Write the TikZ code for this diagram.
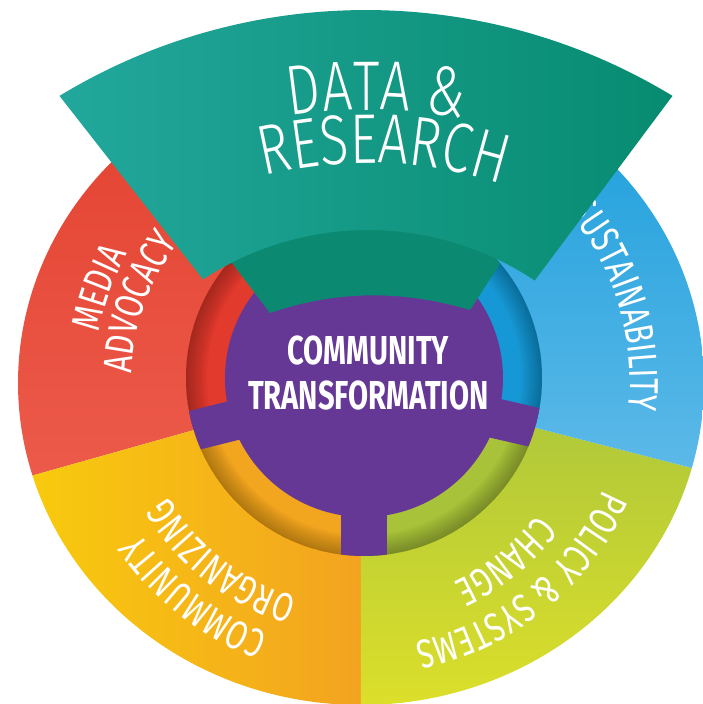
\documentclass[tikz,border=0pt]{standalone}
\usepackage{fontspec}
\setmainfont{Fira Sans}
\newfontfamily\thinfont{Fira Sans Light}[FakeStretch=0.76]
\newfontfamily\ringfamily{Fira Sans}[FakeStretch=0.74]
\newfontfamily\heavyfont{Fira Sans}[FakeStretch=0.72]
\usetikzlibrary{calc,decorations.text}

\definecolor{redtop}{HTML}{E3402E}
\definecolor{redlow}{HTML}{EC5A4A}
\definecolor{redmid}{HTML}{E23A2C}
\definecolor{orgleft}{HTML}{F8CA0E}
\definecolor{orgright}{HTML}{F3A320}
\definecolor{orgmid}{HTML}{F2A51E}
\definecolor{grntop}{HTML}{AAC53C}
\definecolor{grnlow}{HTML}{DCDF2A}
\definecolor{grnmid}{HTML}{A8C23A}
\definecolor{blutop}{HTML}{169CDA}
\definecolor{blulow}{HTML}{5CB9E8}
\definecolor{blumid}{HTML}{1798D6}
\definecolor{tealleft}{HTML}{22A79C}
\definecolor{tealright}{HTML}{078B70}
\definecolor{tealmid}{HTML}{0C8A71}
\definecolor{corepurple}{HTML}{653896}

\newcommand\ringfont{\ringfamily\fontsize{23}{23}\selectfont}
\newcommand\capfont{\thinfont\fontsize{40}{40}\selectfont}

\tikzset{
  ringlabel/.style={
    decorate,
    decoration={text along path, text align=center, text color=white, text={|\ringfont|#1}}
  },
  caplabel/.style={
    decorate,
    decoration={text along path, text align=center, text color=white, text={|\capfont|#1}}
  },
  coretext/.style={
    text=white,
    align=center,
    font=\heavyfont\bfseries\fontsize{23}{26}\selectfont
  },
  spoke/.style={fill=corepurple}
}

\begin{document}
\begin{tikzpicture}
\useasboundingbox (-7.28,-6.52) rectangle (6.78,7.56);

\coordinate (rc) at (-0.06,-0.1);
\coordinate (wedgeout) at (0.04,-4.44);
\coordinate (wedgein) at (0.08,-3.05);
\coordinate (tc) at (0.08,-4.44);

% outer ring
\shade[top color=redtop, bottom color=redlow]
  (rc) -- ++(196.7:6.86 and 6.44) arc[start angle=196.7, end angle=90, x radius=6.86, y radius=6.44] -- cycle;
\shade[left color=orgleft, right color=orgright]
  (rc) -- ++(270:6.86 and 6.44) arc[start angle=270, end angle=196.7, x radius=6.86, y radius=6.44] -- cycle;
\shade[top color=grntop, bottom color=grnlow]
  (rc) -- ++(344.7:6.86 and 6.44) arc[start angle=344.7, end angle=270, x radius=6.86, y radius=6.44] -- cycle;
\shade[top color=blutop, bottom color=blulow]
  (rc) -- ++(90:6.86 and 6.44) arc[start angle=90, end angle=-15.3, x radius=6.86, y radius=6.44] -- cycle;

% inner ring
\fill[redmid] (0,0) -- (196:3.56) arc[start angle=196, end angle=90, radius=3.56] -- cycle;
\fill[orgmid] (0,0) -- (270:3.56) arc[start angle=270, end angle=196, radius=3.56] -- cycle;
\fill[grnmid] (0,0) -- (345:3.56) arc[start angle=345, end angle=270, radius=3.56] -- cycle;
\fill[blumid] (0,0) -- (90:3.56) arc[start angle=90, end angle=-15, radius=3.56] -- cycle;
\begin{scope}
  \clip (0,0) circle (3.56);
  \foreach \k in {1,...,14}
    \draw[black, opacity=0.018, line width=\k*0.6mm] (0,0) circle (3.56);
\end{scope}

% core with spokes
\fill[corepurple] (0,0) circle (2.78);
\begin{scope}
  \clip (0,0) circle (3.56);
  \foreach \a/\w in {194/0.4, -13/0.4, 270/0.46}
    \fill[spoke, rotate around={\a:(0,-0.2)}] (0,-0.2-\w) rectangle (4,-0.2+\w);
\end{scope}

% ring labels
\path[ringlabel={MEDIA}] ([shift={(200:5.34)}]rc) arc[start angle=200, end angle=120, radius=5.34];
\path[ringlabel={ADVOCACY}] ([shift={(200:4.6)}]rc) arc[start angle=200, end angle=120, radius=4.6];
\path[ringlabel={SUSTAINABILITY}] ([shift={(60:5.38)}]rc) arc[start angle=60, end angle=-26, radius=5.38];
\path[ringlabel={POLICY {\&} SYSTEMS}] ([shift={(-11:5.3)}]rc) arc[start angle=-11, end angle=-91, radius=5.3];
\path[ringlabel={CHANGE}] ([shift={(-11:4.4)}]rc) arc[start angle=-11, end angle=-91, radius=4.4];
\path[ringlabel={COMMUNITY}] ([shift={(272:5.34)}]rc) arc[start angle=272, end angle=192, radius=5.34];
\path[ringlabel={ORGANIZING}] ([shift={(272:4.48)}]rc) arc[start angle=272, end angle=192, radius=4.48];

% teal piece
\fill[tealmid] (-2.64,2.30) -- (-1.88,1.30) .. controls (-0.54,1.76) and (0.78,1.76) .. (2.12,1.36)
  -- (2.68,2.22) -- (40:3.56) arc[start angle=40, end angle=140, radius=3.56] -- cycle;
\shade[left color=tealleft, right color=tealright]
  ([shift={(121.3:11.8)}]wedgeout) arc[start angle=121.3, end angle=58.7, radius=11.8]
  -- ([shift={(56.3:6.01)}]wedgein) arc[start angle=56.3, end angle=123.3, radius=6.01]
  -- cycle;

\path[caplabel={DATA {\&}}] ([shift={(119:9.8)}]tc) arc[start angle=119, end angle=59, radius=9.8];
\path[caplabel={RESEARCH}] ([shift={(118:8.74)}]tc) arc[start angle=118, end angle=58, radius=8.74];

\node[coretext] (core) at (0.09,0.1) {COMMUNITY\\TRANSFORMATION};
\end{tikzpicture}
\end{document}
